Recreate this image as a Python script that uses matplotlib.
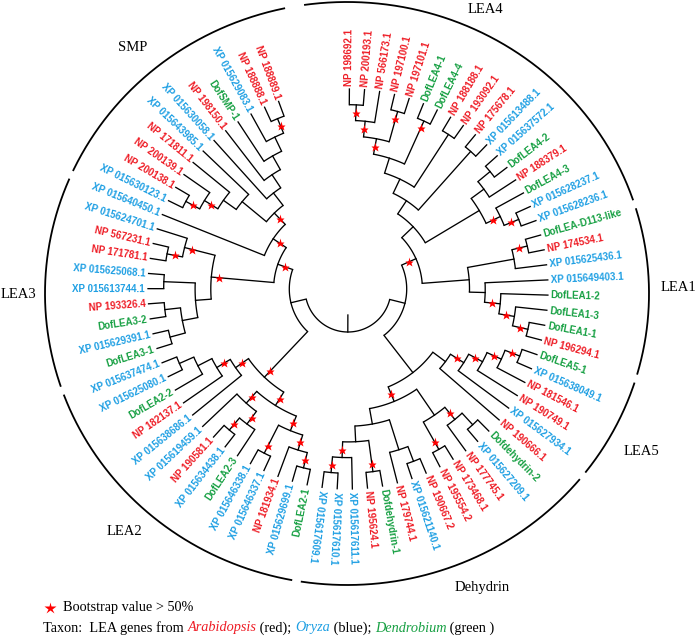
import matplotlib
matplotlib.use("Agg")
import numpy as np
import matplotlib.pyplot as plt

# ── leaves, clockwise from 12 o'clock ─────────────────────────────────────────
LABELS = [
    "NP 198692.1", "NP 200193.1", "NP 566173.1", "NP 197100.1", "NP 197101.1",
    "DofLEA4-1", "DofLEA4-4", "NP 188188.1", "NP 193092.1", "NP 175678.1",
    "XP 015613488.1", "XP 015637572.1", "DofLEA4-2", "NP 188379.1", "DofLEA4-3",
    "XP 015628237.1", "XP 015628236.1", "DofLEA-D113-like", "NP 174534.1", "XP 015625436.1",
    "XP 015649403.1", "DofLEA1-2", "DofLEA1-3", "DofLEA1-1", "NP 196294.1",
    "DofLEA5-1", "XP 015638049.1", "NP 181546.1", "NP 190749.1", "XP 015627934.1",
    "NP 190666.1", "Dofdehydrin-2", "XP 015627209.1", "NP 177745.1", "NP 173468.1",
    "NP 195554.2", "NP 190667.2", "XP 015621140.1", "NP 179744.1", "Dofdehydrin-1",
    "NP 195624.1", "XP 015617611.1", "XP 015617610.1", "XP 015617609.1", "DofLEA2-1",
    "XP 015629699.1", "NP 181934.1", "XP 015646337.1", "XP 015646338.1", "DofLEA2-3",
    "XP 015634438.1", "NP 190581.1", "XP 015619459.1", "XP 015638686.1", "NP 182137.1",
    "DofLEA2-2", "XP 015625080.1", "XP 015637474.1", "DofLEA3-1", "XP 015629391.1",
    "DofLEA3-2", "NP 193326.4", "XP 015613744.1", "XP 015625068.1", "NP 171781.1",
    "NP 567231.1", "XP 015624701.1", "XP 015640450.1", "XP 015630123.1", "NP 200138.1",
    "NP 200139.1", "NP 171811.1", "XP 015643985.1", "XP 015630058.1", "NP 198150.1",
    "DofSMP-1", "XP 015629083.1", "NP 188888.1", "NP 188889.1",
]

# topology (leaf indices), "*" = bootstrap > 50%
_H    = "(((((0,1)*,2)*,(3,4)*)*,(5,6)*),(7,8))"
_LEA4 = "((" + _H + ",(9,10)),(((11,12),13),(14,(15,16)*)*))"
_LEA1 = "(((17,18)*,19),(20,(21,(22,(23,24)*)*)*))"
_LEA5 = "(((((25,26)*,27)*,28)*,29)*,30)"
_DEH  = "((((31,32),33)*,(34,35)*),(((36,37),38),((39,40)*,(41,(42,43)*)*)))*"
_LEA2 = "(((((44,45)*,46)*,(47,48)*)*,((49,(50,51)*)*,52)*)*,(53,(54,(55,(56,57)))*)*)*"
_LEA3 = "((((58,59),(60,61)),(62,63)),((64,65)*,66)*)*"
_SMP  = "(67,(((((68,69)*,70)*,71),72),(73,(74,(75,(76,(77,78)*)))))*)*"
TREE = ("(((" + _LEA4 + "," + _LEA1 + ")*,(" + _LEA5 + "," + _DEH + ")),"
        "(" + _LEA2 + ",(" + _LEA3 + "," + _SMP + ")*))")

GROUPS      = ["LEA4", "LEA1", "LEA5", "Dehydrin", "LEA2", "LEA3", "SMP"]
GROUP_FIRST = [0, 17, 25, 30, 44, 58, 68]
GROUP_LAST  = [16, 24, 29, 43, 57, 67, 78]

COLOR = {"NP": "#ee1c25", "XP": "#1e9fe3", "Dof": "#17a043"}

# ── geometry (pixels, y up) ───────────────────────────────────────────────────
W, H = 697, 639
CX, CY = 348, 350
A0, STEP = 89.6, 4.35
R_LEAF, R_ROOT = 200, 43


def parse(s):
    pos = 0

    def node():
        nonlocal pos
        if s[pos] == "(":
            pos += 1
            kids = [node()]
            while s[pos] == ",":
                pos += 1
                kids.append(node())
            pos += 1
            star = pos < len(s) and s[pos] == "*"
            if star:
                pos += 1
            return {"kids": kids, "star": star}
        j = pos
        while s[pos].isdigit():
            pos += 1
        return {"leaf": int(s[j:pos])}

    return node()


def layout(n):
    if "leaf" in n:
        n["h"] = 0
        n["th"] = A0 - STEP * n["leaf"]
    else:
        for k in n["kids"]:
            layout(k)
        n["h"] = 1 + max(k["h"] for k in n["kids"])
        n["th"] = (n["kids"][0]["th"] + n["kids"][-1]["th"]) / 2


def pol(r, th):
    t = np.radians(th)
    return CX + r * np.cos(t), CY + r * np.sin(t)


root = parse(TREE)
layout(root)
D = (R_LEAF - R_ROOT) / root["h"]
radius = lambda n: R_LEAF - D * n["h"]

fig = plt.figure(figsize=(W / 100, H / 100), dpi=100)
ax = fig.add_axes([0, 0, 1, 1])
ax.set_xlim(0, W)
ax.set_ylim(0, H)
ax.axis("off")

LW = 0.95
stars = []


def draw(n):
    if "leaf" in n:
        return
    r = radius(n)
    th = np.linspace(n["kids"][0]["th"], n["kids"][-1]["th"], 60)
    ax.plot(*pol(r, th), color="black", lw=LW, solid_capstyle="butt")
    for k in n["kids"]:
        ax.plot(*pol(np.array([r, radius(k)]), k["th"]), color="black", lw=LW)
        draw(k)
    if n["star"]:
        stars.append(pol(r - 8, n["th"]))


draw(root)
ax.plot(*pol(np.array([R_ROOT, R_ROOT - 17]), root["th"]), color="black", lw=LW)
sx, sy = zip(*stars)
ax.plot(sx, sy, "*", color="red", ms=6.5, mec="none", ls="none")

# leaf labels
for i, lab in enumerate(LABELS):
    th = A0 - STEP * i
    a = th % 360
    col = COLOR["Dof"] if lab.startswith("Dof") else COLOR[lab[:2]]
    x, y = pol(R_LEAF + 3, th)
    flip = 100 < a < 260
    ax.text(x, y, lab, rotation=a - 180 if flip else a,
            ha="right" if flip else "left", va="center",
            rotation_mode="anchor", color=col, fontsize=7, fontweight="bold",
            family="Liberation Sans")

# group arcs and names
RX, RY = 302, 291.5
ACX, ACY = 347, 345.5
for g, i0, i1 in zip(GROUPS, GROUP_FIRST, GROUP_LAST):
    hi = A0 - STEP * (i0 - 0.5) - 1.0      # counter-clockwise end
    lo = A0 - STEP * (i1 + 0.5) + 1.0      # clockwise end
    if g == "LEA4":
        hi = 98.0
    if g == "SMP":
        lo = 102.0 - 360.0
    t = np.radians(np.linspace(lo, hi, 200))
    ax.plot(ACX + RX * np.cos(t), ACY + RY * np.sin(t), color="black", lw=1.3)

NAME_POS = {"LEA4": (63.8, 312), "LEA1": (0.3, 330), "LEA5": (-29, 335),
            "Dehydrin": (-65.8, 327), "LEA2": (227.3, 330), "LEA3": (181, 330),
            "SMP": (131.7, 323)}
for g in GROUPS:
    th, r = NAME_POS[g]
    x, y = pol(r, th)
    ax.text(x, y, g, ha="center", va="center", fontsize=10.5,
            family="Liberation Serif")

# legend
ax.plot([50], [31], "*", color="red", ms=9, mec="none")
ax.text(63, 31, "Bootstrap value > 50%", ha="left", va="center",
        fontsize=10.3, family="Liberation Serif")

parts = [("Taxon:  LEA genes from ", "black", "normal"),
         ("Arabidopsis", COLOR["NP"], "italic"),
         (" (red); ", "black", "normal"),
         ("Oryza", COLOR["XP"], "italic"),
         (" (blue); ", "black", "normal"),
         ("Dendrobium", COLOR["Dof"], "italic"),
         (" (green )", "black", "normal")]
renderer = fig.canvas.get_renderer()
xcur = 43
for txt, col, sty in parts:
    tx = ax.text(xcur, 11, txt, ha="left", va="center", fontsize=10.3,
                 family="Liberation Serif", color=col, style=sty)
    xcur += tx.get_window_extent(renderer=renderer).width

fig.savefig("out.png", dpi=100)
